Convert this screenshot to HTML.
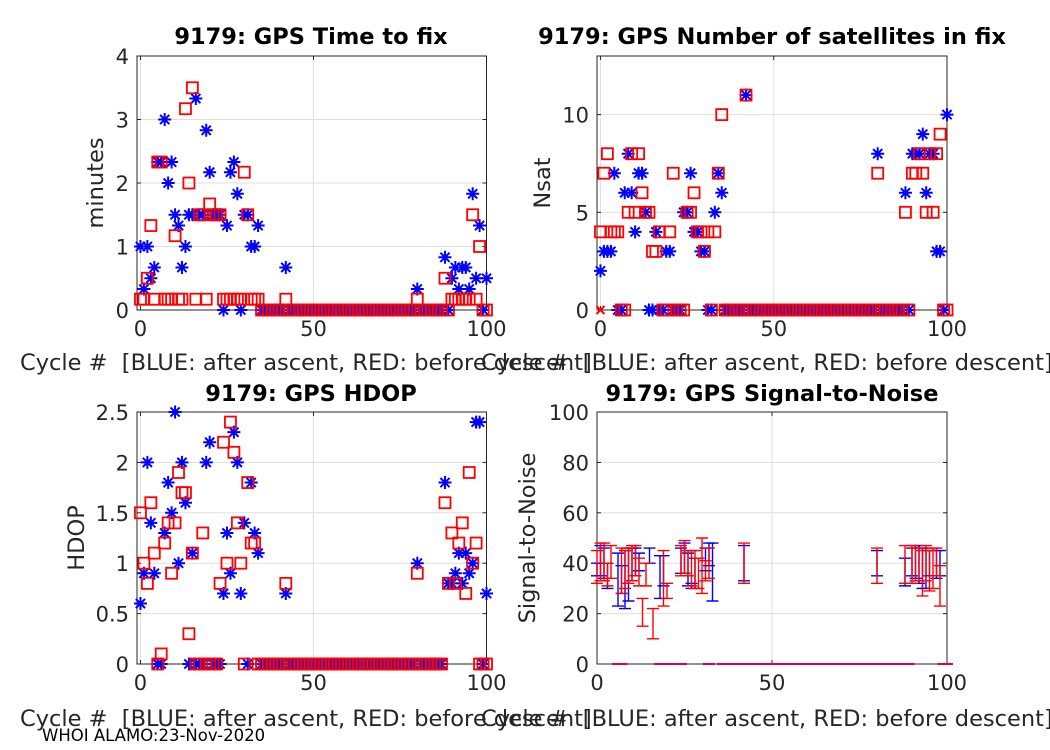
<!DOCTYPE html>
<html><head><meta charset="utf-8"><style>
body{margin:0;background:#fff}
svg{display:block;font-family:"DejaVu Sans","Liberation Sans",sans-serif}
</style></head><body>
<svg id="fig" width="1050" height="750" viewBox="0 0 1050 750">
<text x="311" y="44" text-anchor="middle" font-size="22.5" font-weight="bold" fill="#000">9179: GPS Time to fix</text>
<text x="772" y="44" text-anchor="middle" font-size="22.5" font-weight="bold" fill="#000">9179: GPS Number of satellites in fix</text>
<text x="311" y="401" text-anchor="middle" font-size="22.5" font-weight="bold" fill="#000">9179: GPS HDOP</text>
<text x="772" y="401" text-anchor="middle" font-size="22.5" font-weight="bold" fill="#000">9179: GPS Signal-to-Noise</text>
<text transform="translate(103,183) rotate(-90)" text-anchor="middle" font-size="22.5" fill="#262626">minutes</text>
<text transform="translate(550,183) rotate(-90)" text-anchor="middle" font-size="22.5" fill="#262626">Nsat</text>
<text transform="translate(84,538) rotate(-90)" text-anchor="middle" font-size="22.5" fill="#262626">HDOP</text>
<text transform="translate(535,538) rotate(-90)" text-anchor="middle" font-size="22.5" fill="#262626">Signal-to-Noise</text>
<text x="20" y="370" font-size="22.5" fill="#262626" xml:space="preserve">Cycle #  [BLUE: after ascent, RED: before descent]</text>
<text x="481" y="370" font-size="22.5" fill="#262626" xml:space="preserve">Cycle #  [BLUE: after ascent, RED: before descent]</text>
<text x="20" y="726" font-size="22.5" fill="#262626" xml:space="preserve">Cycle #  [BLUE: after ascent, RED: before descent]</text>
<text x="481" y="726" font-size="22.5" fill="#262626" xml:space="preserve">Cycle #  [BLUE: after ascent, RED: before descent]</text>
<text x="42" y="741" font-size="16.5" fill="#000">WHOI ALAMO:23-Nov-2020</text>
</svg>
<script>
const ttfBlue=[1,0.33,1,0.5,0.67,2.33,2.33,3,2,2.33,1.5,1.33,0.67,1,1.5,1.5,3.33,1.5,1.5,2.83,2.17,1.5,1.5,1.5,0,1.33,2.17,2.33,1.83,0,1.5,1.5,1,1,1.33,
0,0,0,0,0,0,0,0.67,
0,0,0,0,0,0,0,0,0,0, 0,0,0,0,0,0,0,0,0,0, 0,0,0,0,0,0,0,0,0,0, 0,0,0,0,0,0,0,
0.33,0,0,0,0,0,0,0,0.83,0,0.5,0.67,0.33,0.67,0.67,0.33,1.83,0.5,1.33,0,0.5];
const ttfRed=[0.17,0.17,0.5,1.33,0.17,2.33,2.33,0.17,0.17,0.17,1.17,0.17,0.17,3.17,2,3.5,0.17,1.5,1.5,0.17,1.67,1.5,1.5,1.5,0.17,0.17,0.17,0.17,0.17,0.17,2.17,1.5,0.17,0.17,0.17,
0,0,0,0,0,0,0,0.17,
0,0,0,0,0,0,0,0,0,0, 0,0,0,0,0,0,0,0,0,0, 0,0,0,0,0,0,0,0,0,0, 0,0,0,0,0,0,0,
0.17,0,0,0,0,0,0,0,0.5,0,0.17,0.17,0.17,0.17,0.17,0.17,1.5,0.17,1,0,0];
const nsatBlue=[2,3,3,3,7,0,0,6,8,6,4,7,7,5,0,0,4,0,0,3,3,0,0,0,5,5,7,4,4,3,3,0,0,5,7,6,
0,0,0,0,0,0,11,
0,0,0,0,0,0,0,0,0,0, 0,0,0,0,0,0,0,0,0,0, 0,0,0,0,0,0,0,0,0,0, 0,0,0,0,0,0,0,
8,0,0,0,0,0,0,0,6,0,8,8,8,9,6,8,8,3,3,0,10];
const nsatRed=[4,7,8,4,4,4,0,0,5,8,5,8,6,5,5,3,3,4,0,0,4,7,0,0,0,5,5,6,4,4,3,4,0,4,7,10,
0,0,0,0,0,0,11,
0,0,0,0,0,0,0,0,0,0, 0,0,0,0,0,0,0,0,0,0, 0,0,0,0,0,0,0,0,0,0, 0,0,0,0,0,0,0,
7,0,0,0,0,0,0,0,5,0,7,7,8,7,5,8,5,8,9,0,0];
const hdopBlue=[0.6,0.9,2,1.4,0.9,0,0,1.3,1.8,1.5,2.5,1,2,1.6,0,1.1,0,0,0,2,2.2,0,0,0,0.7,1.3,0.9,2.3,2,0.7,1.4,0,1.8,1.3,1.1,
0,0,0,0,0,0,0,0.7,
0,0,0,0,0,0,0,0,0,0, 0,0,0,0,0,0,0,0,0,0, 0,0,0,0,0,0,0,0,0,0, 0,0,0,0,0,0,0,
1,0,0,0,0,0,0,0,1.8,0.8,0.8,0.9,1.1,0.8,1.1,0.9,1,2.4,2.4,0,0.7];
const hdopRed=[1.5,1,0.8,1.6,1.1,0,0.1,1.2,1.4,0.9,1.4,1.9,1.7,1.7,0.3,1.1,0,0,1.3,0,0,0,0,0.8,2.2,1,2.4,2.1,1.4,1,0,1.8,1.2,1.2,0,
0,0,0,0,0,0,0,0.8,
0,0,0,0,0,0,0,0,0,0, 0,0,0,0,0,0,0,0,0,0, 0,0,0,0,0,0,0,0,0,0, 0,0,0,0,0,0,0,
0.9,0,0,0,0,0,0,0,1.6,0.8,1.3,0.8,1.2,1.4,0.7,1.9,1,1.2,0,0,0];
const snrRedCycles=[0,1,2,3,4,7,8,9,10,11,12,13,14,16,19,20,24,25,26,27,28,29,30,31,32,42,80,88,90,91,92,93,94,95,96,97,98];
const snrRedMin=[32,33,33,31,34,28,30,32,33,35,31,15,31,10,23,26,35,36,35,31,30,30,28,33,34,32,32,32,32,33,33,27,33,29,30,35,23];
const snrRedMax=[45,48,48,40,47,46,45,46,47,47,42,26,40,22,45,32,47,49,45,45,45,42,50,41,46,48,46,47,47,46,46,45,47,45,46,46,39];
const snrBlueCycles=[0,1,2,3,6,7,8,9,10,11,12,15,18,19,24,25,26,27,28,31,32,33,42,80,88,90,91,92,93,94,95,97,98];
const snrBlueMin=[35,35,34,30,23,28,22,25,33,35,37,40,26,31,36,36,31,30,30,37,39,25,33,35,31,35,34,32,30,30,35,34,35];
const snrBlueMax=[40,47,46,40,44,39,45,46,46,46,44,46,43,43,46,48,44,32,42,46,48,48,47,45,42,46,47,47,46,46,45,45,45];
const tickX=[0,50,100];
const ticksTTF=[0,1,2,3,4];
const ticksNsat=[0,5,10];
const ticksHdop=[0,0.5,1,1.5,2,2.5];
const ticksSnr=[0,20,40,60,80,100];

const NS='http://www.w3.org/2000/svg';
const svg=document.getElementById('fig');
function mk(tag,attrs,parent){const e=document.createElementNS(NS,tag);for(const k in attrs)e.setAttribute(k,attrs[k]);(parent||svg).appendChild(e);return e;}

function axes(name,L,R,T,B,x0,x1,y0,y1,yt){
  const g=mk('g',{});
  
  
  const sx=v=>L+(v-x0)/(x1-x0)*(R-L), sy=v=>B-(v-y0)/(y1-y0)*(B-T);
  tickX.forEach(t=>{const x=sx(t);if(x>L+1&&x<R-1)mk('line',{x1:x,x2:x,y1:T,y2:B,stroke:'#dfdfdf','stroke-width':1},g);});
  yt.forEach(t=>{const y=sy(t);if(y>T+1&&y<B-1)mk('line',{x1:L,x2:R,y1:y,y2:y,stroke:'#dfdfdf','stroke-width':1},g);});
  mk('rect',{x:L,y:T,width:R-L,height:B-T,fill:'none',stroke:'#262626','stroke-width':1},g);
  tickX.forEach(t=>{const x=sx(t);
    mk('line',{x1:x,x2:x,y1:B,y2:B-4,stroke:'#262626'},g);mk('line',{x1:x,x2:x,y1:T,y2:T+4,stroke:'#262626'},g);
    const tx=mk('text',{x:x,y:B+26,'text-anchor':'middle','font-size':21,fill:'#262626'},g);tx.textContent=t;
    
    });
  yt.forEach(t=>{const y=sy(t);
    mk('line',{x1:L,x2:L+4,y1:y,y2:y,stroke:'#262626'},g);mk('line',{x1:R,x2:R-4,y1:y,y2:y,stroke:'#262626'},g);
    const tx=mk('text',{x:L-8,y:y+8,'text-anchor':'end','font-size':21,fill:'#262626'},g);tx.textContent=t;
    
    });
  return {g,sx,sy};
}
function star(g,x,y){const s=6.5,d=4.6;const p=mk('path',{d:`M${x-s},${y}H${x+s}M${x},${y-s}V${y+s}M${x-d},${y-d}L${x+d},${y+d}M${x-d},${y+d}L${x+d},${y-d}`,stroke:'#0000ff','stroke-width':2,fill:'none'},g);
  
  }
function sq(g,x,y){const r=mk('rect',{x:x-5.5,y:y-5.5,width:11,height:11,fill:'none',stroke:'#ff0000','stroke-width':1.8},g);
  
  }
function scatter(ax,blue,red){
  blue.forEach((v,i)=>{if(v!==null)star(ax.g,ax.sx(i),ax.sy(v));});
  red.forEach((v,i)=>{if(v!==null)sq(ax.g,ax.sx(i),ax.sy(v));});
}
const a1=axes('panel-time-to-fix',137,486.5,56,310,-1,100,0,4,ticksTTF);scatter(a1,ttfBlue,ttfRed);
const a2=axes('panel-nsat',597,947,56,310,-1,100,0,13,ticksNsat);scatter(a2,nsatBlue,nsatRed);
{const x=a2.sx(0),y=a2.sy(0);const p=mk('path',{d:`M${x-4},${y-4}L${x+4},${y+4}M${x-4},${y+4}L${x+4},${y-4}`,stroke:'#ff0000','stroke-width':2},a2.g);
 
 }
const a3=axes('panel-hdop',137,486.5,412,664,-1,100,0,2.5,ticksHdop);scatter(a3,hdopBlue,hdopRed);
const a4=axes('panel-snr',597,947,412,664,0,100,0,100,ticksSnr);
function bars(ax,cyc,mn,mx,col,name){
  cyc.forEach((c,i)=>{const x=ax.sx(c),y1=ax.sy(mn[i]),y2=ax.sy(mx[i]);
    const p=mk('path',{d:`M${x},${y1}V${y2}M${x-6},${y1}H${x+6}M${x-6},${y2}H${x+6}`,stroke:col,'stroke-width':1.4,fill:'none'},ax.g);
    
    });
}
bars(a4,snrBlueCycles,snrBlueMin,snrBlueMax,'#0000ff','snr-ascent-bar');
bars(a4,snrRedCycles,snrRedMin,snrRedMax,'#ff0000','snr-descent-bar');
nsatRed.forEach((v,i)=>{if(v===0){const x=a4.sx(i),y=a4.sy(0);
  const p=mk('line',{x1:x-6,x2:x+6,y1:y,y2:y,stroke:'#e0004a','stroke-width':2},a4.g);
  
  }});
</script>
</body></html>
